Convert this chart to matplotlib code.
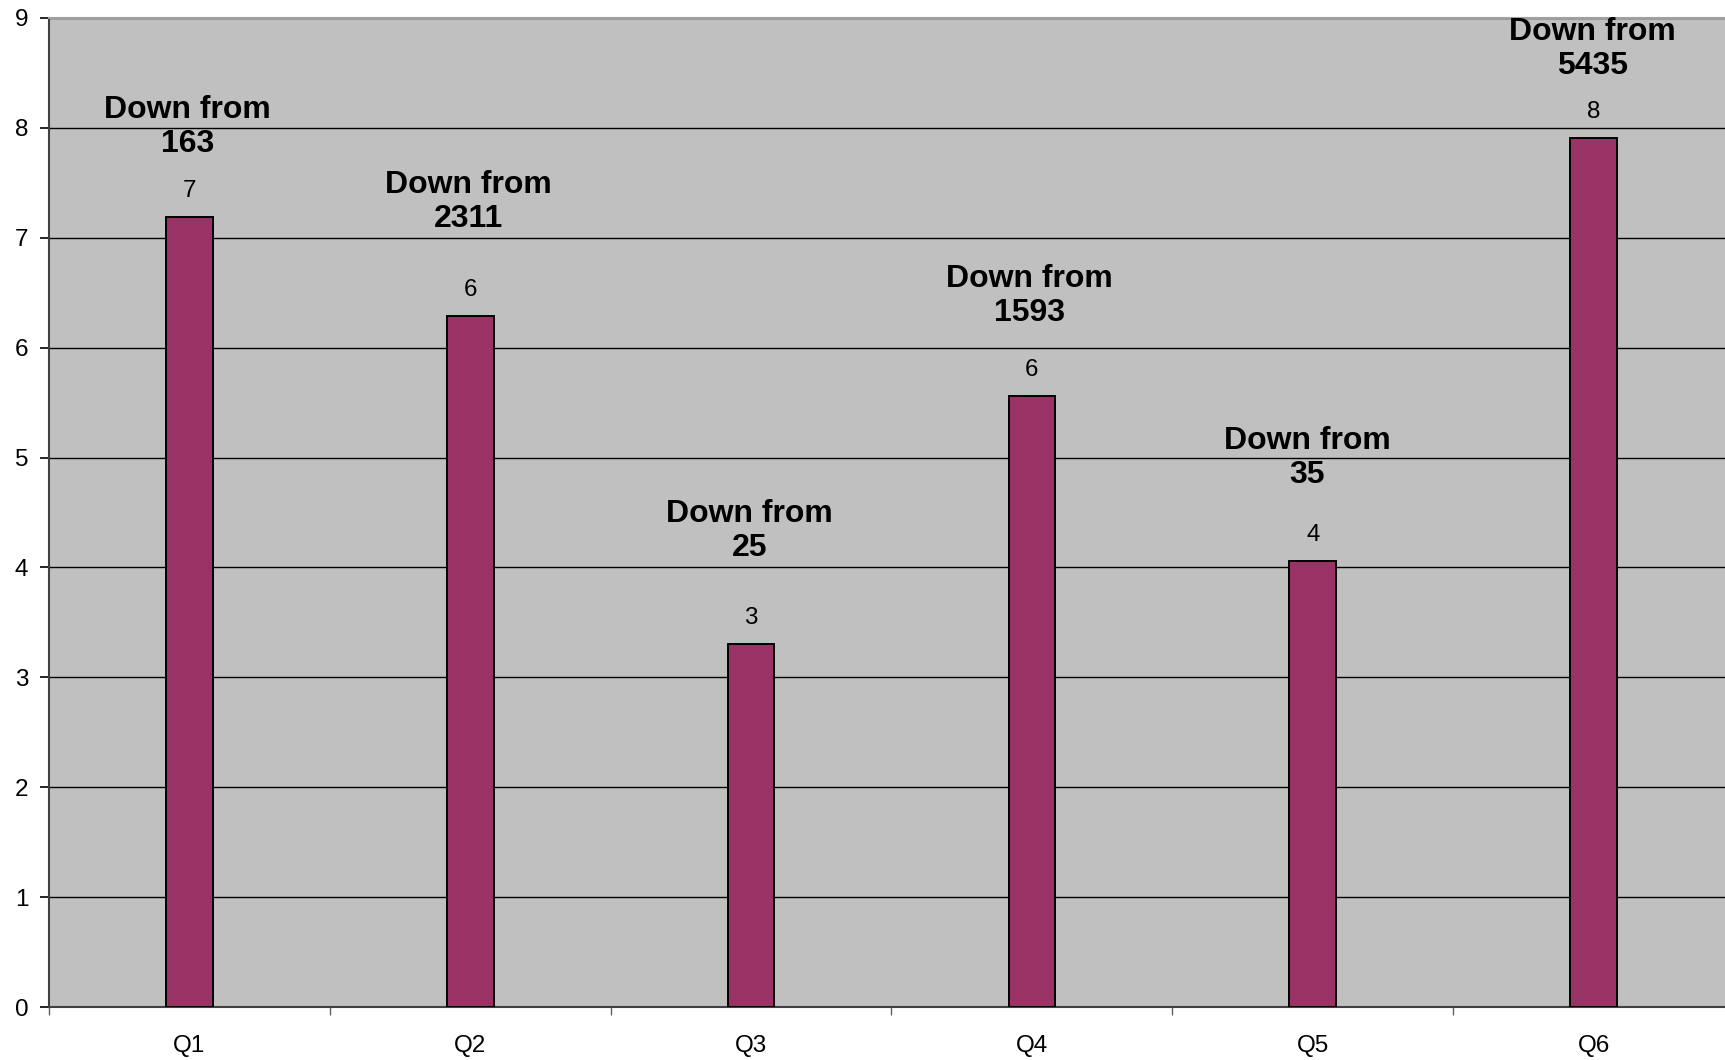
import matplotlib
matplotlib.use("Agg")
import matplotlib.pyplot as plt
import numpy as np

categories = ["Q1", "Q2", "Q3", "Q4", "Q5", "Q6"]
values = [7.19, 6.29, 3.30, 5.56, 4.06, 7.91]
down_from = [163, 2311, 25, 1593, 35, 5435]
y_ticks = [0, 1, 2, 3, 4, 5, 6, 7, 8, 9]

# layout: baseline (data units) of the last line of each "Down from" note,
# and small horizontal nudges in points
note_y = [7.78, 7.10, 4.10, 6.245, 4.77, 8.49]
note_dx = [-1.2, -1.6, -1.0, -1.9, -4.0, -0.6]

plt.rcParams['font.family'] = ['Liberation Sans', 'DejaVu Sans']

W, H = 1725, 1060
fig = plt.figure(figsize=(W / 100, H / 100), dpi=100)
left, right, top, bottom = 49, 1734, 18, 1007
ax = fig.add_axes([left / W, (H - bottom) / H, (right - left) / W, (bottom - top) / H])
ax.set_facecolor("#C0C0C0")

x = np.arange(len(categories))
ax.bar(x, values, width=0.166, color="#993366", edgecolor="black", linewidth=1.4, zorder=3)

ax.set_xlim(-0.5, len(categories) - 0.5)
ax.set_ylim(0, 9)
ax.set_yticks(y_ticks)
ax.yaxis.grid(True, color="black", linewidth=1.0, zorder=1)
ax.set_axisbelow(True)

ax.set_xticks(x)
ax.set_xticklabels(categories)
ax.set_xticks(np.arange(-0.5, len(categories) + 0.5, 1), minor=True)
ax.tick_params(axis="x", which="major", length=0, pad=20.5, labelsize=17.5)
ax.tick_params(axis="x", which="minor", length=6, width=1, color="#606060", direction="out")
ax.tick_params(axis="y", which="major", length=6.5, width=1.2, color="black", pad=8.5, labelsize=17.5)

for side in ["left", "bottom"]:
    ax.spines[side].set_color("#404040")
    ax.spines[side].set_linewidth(1.5)
ax.spines["top"].set_color("#A0A0A0")
ax.spines["top"].set_linewidth(1.5)
ax.spines["right"].set_visible(False)

for xi, v, d, ny, dx in zip(x, values, down_from, note_y, note_dx):
    ax.annotate(f"{v:.0f}", (xi, v), xytext=(0, 14.4), textcoords="offset points",
                ha="center", va="baseline", fontsize=17.4, zorder=4)
    ax.annotate(f"Down from\n{d}", (xi, ny), xytext=(dx, 0), textcoords="offset points",
                ha="center", va="baseline", fontsize=23, fontweight="bold",
                linespacing=1.18, zorder=4, annotation_clip=False)

fig.savefig("out.png", dpi=100)
